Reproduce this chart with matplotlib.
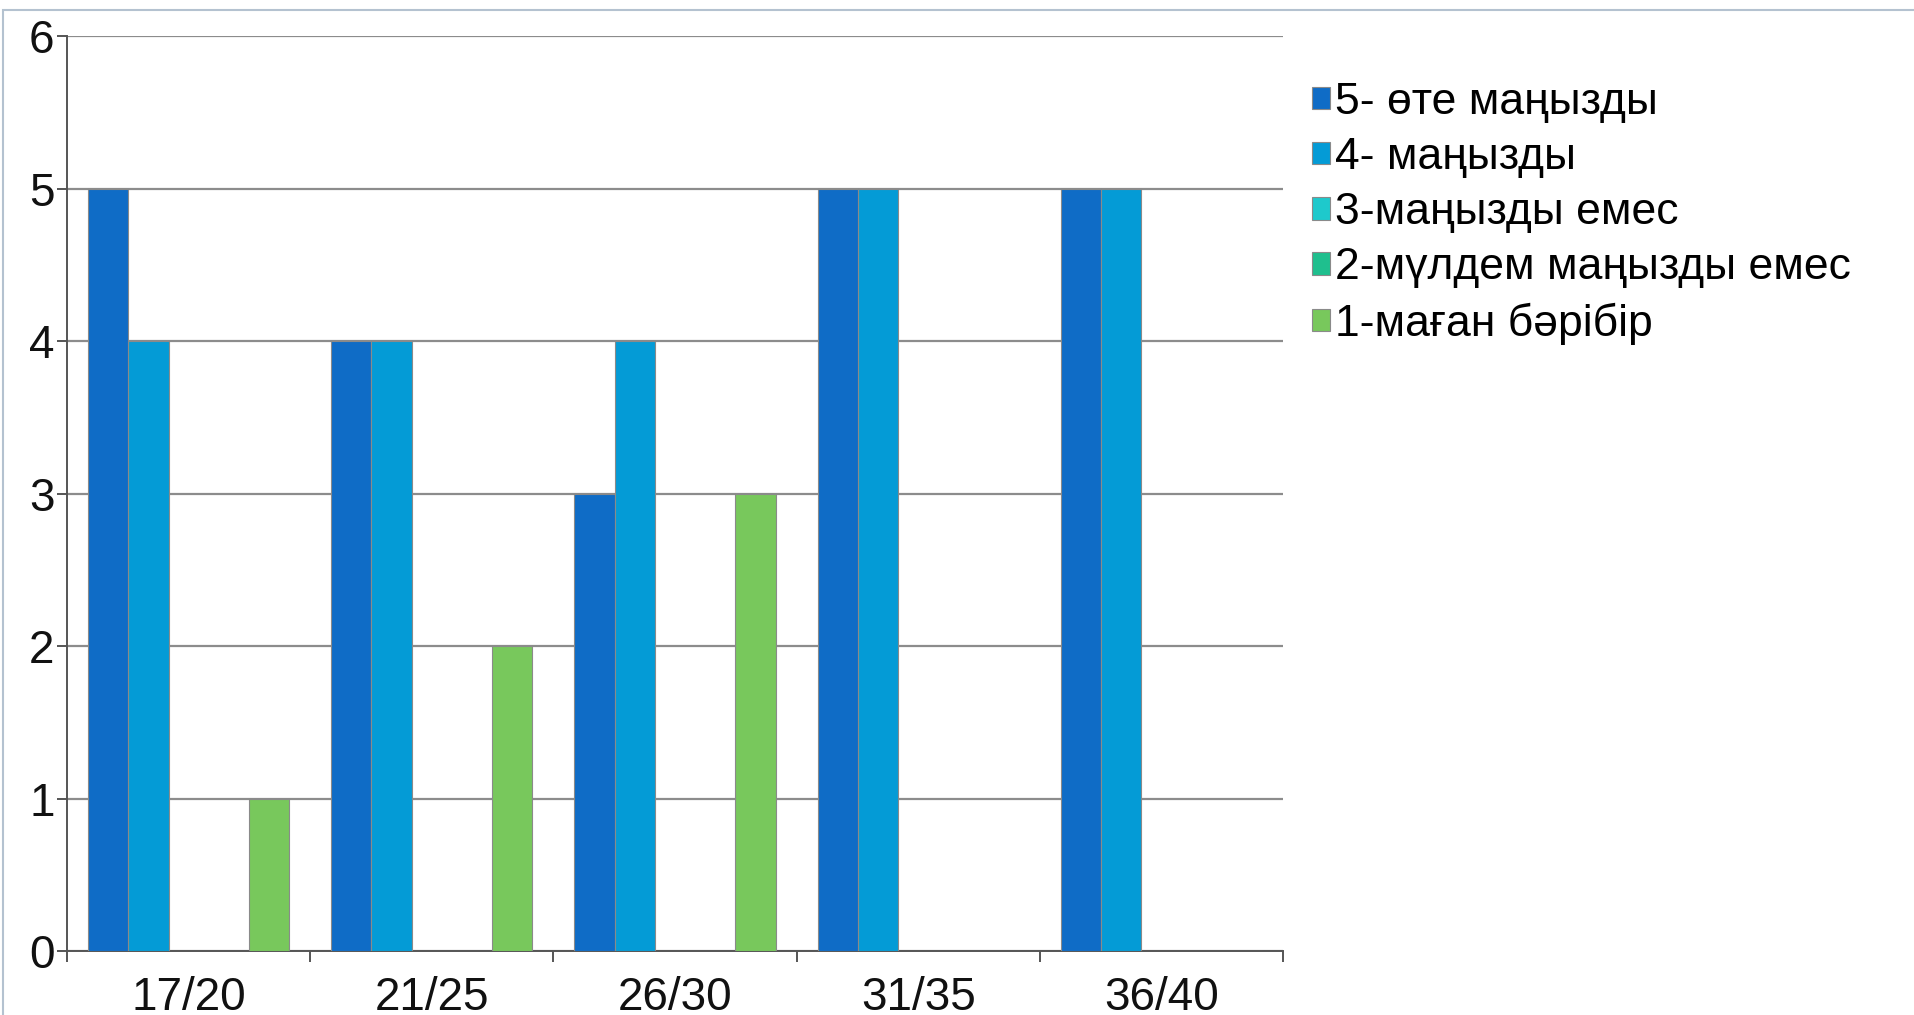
import matplotlib.pyplot as plt
import numpy as np
from matplotlib.patches import Rectangle

plt.rcParams['font.family'] = ['Liberation Sans', 'DejaVu Sans']

categories = ["17/20", "21/25", "26/30", "31/35", "36/40"]
series_names = ["5- өте маңызды", "4- маңызды", "3-маңызды емес",
                "2-мүлдем маңызды емес", "1-маған бәрібір"]
s5 = [5, 4, 3, 5, 5]
s4 = [4, 4, 4, 5, 5]
s3 = [0, 0, 0, 0, 0]
s2 = [0, 0, 0, 0, 0]
s1 = [1, 2, 3, 0, 0]
values = [s5, s4, s3, s2, s1]
colors = ["#0f6cc6", "#049bd6", "#1ec9cc", "#1fbf8e", "#78c85c"]

fig = plt.figure(figsize=(19.15, 10.15), dpi=100)
ax = fig.add_axes([0.035, 0.063, 0.635, 0.9015])

x = np.arange(len(categories))
w = 0.1654
handles = []
for i, (vals, col, name) in enumerate(zip(values, colors, series_names)):
    b = ax.bar(x - 2 * w + i * w, vals, width=w, color=col, edgecolor="#8a8a8a",
               linewidth=0.8, label=name, zorder=3)
    handles.append(b)

ax.set_xlim(-0.5, len(categories) - 0.5)
ax.set_ylim(0, 6)
ax.set_yticks(range(0, 7))
ax.yaxis.grid(True, color="#8c8c8c", linewidth=1.6, zorder=0)
ax.set_axisbelow(True)

for s in ["top", "right"]:
    ax.spines[s].set_visible(False)
for s in ["left", "bottom"]:
    ax.spines[s].set_color("#555555")
    ax.spines[s].set_linewidth(1.4)

ax.set_xticks(x)
ax.set_xticklabels(categories)
ax.set_xticks(np.arange(-0.5, len(categories)), minor=True)
ax.tick_params(axis="x", which="major", length=0, pad=18, labelsize=33, labelcolor="#111111")
ax.tick_params(axis="x", which="minor", length=8, width=1.4, color="#555555", direction="out")
ax.tick_params(axis="y", length=7, width=1.4, color="#555555", pad=2, labelsize=33, labelcolor="#111111")

leg = fig.legend(handles=handles, loc="upper left", bbox_to_anchor=(0.676, 0.937),
                 frameon=False, fontsize=32, handlelength=0.4, handleheight=0.4,
                 handletextpad=0.1, labelspacing=0.32, borderaxespad=0)

# thin border around the picture
fig.patches.append(Rectangle((0.0015, -0.01), 1.2, 1.0, transform=fig.transFigure,
                             fill=False, edgecolor="#b4c2d0", linewidth=1.5))

fig.savefig("out.png", dpi=100)
